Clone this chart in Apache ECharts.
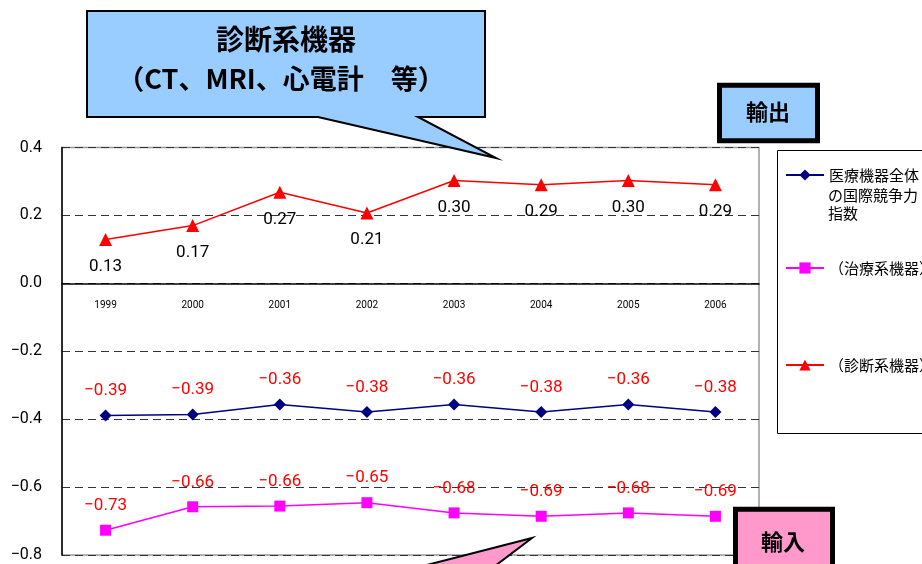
<!DOCTYPE html>
<html><head><meta charset="utf-8">
<script src="https://cdn.jsdelivr.net/npm/echarts@6/dist/echarts.min.js"></script>
<style>html,body{margin:0;padding:0;background:#fff}#c{width:922px;height:564px}</style>
</head><body><div id="c"></div>
<script>
const years = ['1999','2000','2001','2002','2003','2004','2005','2006'];
const overallName = '医療機器全体の国際競争力指数';
const therapeuticName = '（治療系機器）';
const diagnosticName = '（診断系機器）';
const overall = [-0.389,-0.386,-0.357,-0.379,-0.357,-0.379,-0.357,-0.379];
const therapeutic = [-0.727,-0.658,-0.656,-0.646,-0.676,-0.686,-0.676,-0.686];
const diagnostic = [0.129,0.17,0.268,0.207,0.303,0.29,0.303,0.29];
const yMin = -0.8, yMax = 0.4, yStep = 0.2;

const numFont = 'Roboto';
const cjk = '"Noto Sans CJK JP", sans-serif';
const fmt = v => (v < 0 ? '\u2212' : '') + Math.abs(v).toFixed(2);

const gridTop = 147.5, gridBottomY = 555;
const zeroY = gridTop + (gridBottomY - gridTop) * (yMax / (yMax - yMin));

const legendCommon = {left:785, padding:0, itemWidth:38, itemHeight:14,
  textStyle:{fontSize:15, color:'#000', fontFamily:cjk, lineHeight:18}};

const chart = echarts.init(document.getElementById('c'), null, {renderer:'canvas'});
chart.setOption({
  animation: false,
  backgroundColor: '#fff',
  grid: {left:62, right:163, top:gridTop, bottom:564 - gridBottomY, show:true, borderColor:'#999', borderWidth:1.5,
         backgroundColor:'transparent', containLabel:false, outerBoundsMode:'none'},
  xAxis: {
    type:'category', data: years, boundaryGap:true, position:'bottom',
    offset: -(gridBottomY - zeroY),
    axisLine:{onZero:false, lineStyle:{color:'#000', width:1.5}},
    axisTick:{inside:true, length:7, lineStyle:{color:'#000'}},
    axisLabel:{margin:17, fontSize:10, color:'#000', fontFamily:numFont},
    splitLine:{show:false}
  },
  yAxis: {
    type:'value', min:yMin, max:yMax, interval:yStep,
    axisLine:{show:true, lineStyle:{color:'#000', width:1.5}},
    axisTick:{show:false},
    axisLabel:{margin:20, fontSize:16, color:'#000', fontFamily:numFont,
      formatter: v => (v < -1e-9 ? '\u2212' : '') + Math.abs(v).toFixed(1)},
    splitLine:{show:true, lineStyle:{type:[8,5], color:'#333', width:1}}
  },
  legend: [
    Object.assign({}, legendCommon, {data:[overallName], top:166, formatter: () => '医療機器全体'}),
    Object.assign({}, legendCommon, {data:[therapeuticName], top:259}),
    Object.assign({}, legendCommon, {data:[diagnosticName], top:356})
  ],
  series: [
    {name: overallName, type:'line', data: overall, symbol:'diamond', symbolSize:12,
     lineStyle:{color:'#000080', width:1.5}, itemStyle:{color:'#000080'},
     label:{show:true, position:'top', distance:10, color:'#FF0000', fontSize:17, fontFamily:numFont, formatter: p => fmt(p.value)}},
    {name: therapeuticName, type:'line', data: therapeutic, symbol:'rect', symbolSize:11,
     lineStyle:{color:'#FF00FF', width:1.5}, itemStyle:{color:'#FF00FF'},
     label:{show:true, position:'top', distance:10.5, color:'#FF0000', fontSize:17, fontFamily:numFont, formatter: p => fmt(p.value)}},
    {name: diagnosticName, type:'line', data: diagnostic, symbol:'triangle', symbolSize:13,
     lineStyle:{color:'#FF0000', width:1.5}, itemStyle:{color:'#FF0000'},
     label:{show:true, position:'bottom', distance:12, color:'#000', fontSize:17, fontFamily:numFont, formatter: p => fmt(p.value)}}
  ],
  graphic: [
    {type:'rect', z:1, shape:{x:777.5, y:150.5, width:200, height:283}, style:{fill:'#fff', stroke:'#000', lineWidth:1}},
    {type:'text', z:10, x:828, y:186, style:{text:'の国際競争力\n指数', font:'15px "Noto Sans CJK JP"', lineHeight:18, fill:'#000', verticalAlign:'top'}},
    {type:'polygon', z:100, shape:{points:[[87,11],[485,11],[485,117],[418,117],[496,158],[318,117],[87,117]]},
     style:{fill:'#99CCFF', stroke:'#000', lineWidth:2}},
    {type:'text', z:101, x:286, y:39, style:{text:'診断系機器', font:'bold 28px "Noto Sans CJK JP"', fill:'#000', align:'center', verticalAlign:'middle'}},
    {type:'text', z:101, x:281, y:79, style:{text:'（CT、MRI、心電計　等）', font:'bold 27px "Noto Sans CJK JP"', fill:'#000', align:'center', verticalAlign:'middle'}},
    {type:'rect', z:100, shape:{x:719.5, y:85.2, width:98, height:55.6}, style:{fill:'#99CCFF', stroke:'#000', lineWidth:5}},
    {type:'text', z:101, x:768, y:112, style:{text:'輸出', font:'bold 22px "Noto Sans CJK JP"', fill:'#000', align:'center', verticalAlign:'middle'}},
    {type:'rect', z:100, shape:{x:735.5, y:509.2, width:97, height:80}, style:{fill:'#FF99CC', stroke:'#000', lineWidth:5}},
    {type:'text', z:101, x:783, y:542, style:{text:'輸入', font:'bold 22px "Noto Sans CJK JP"', fill:'#000', align:'center', verticalAlign:'middle'}},
    {type:'polygon', z:100, shape:{points:[[423,566],[532,538],[495,566]]}, style:{fill:'#FF99CC', stroke:'#000', lineWidth:2}}
  ]
});
</script></body></html>
